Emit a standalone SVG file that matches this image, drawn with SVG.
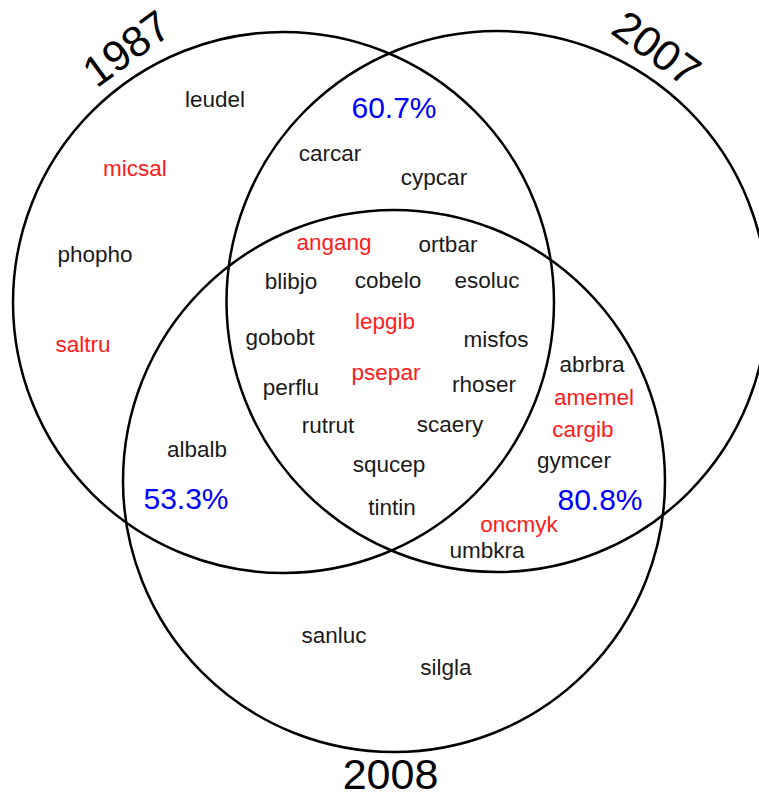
<svg xmlns="http://www.w3.org/2000/svg" width="759" height="799" viewBox="0 0 759 799">
  <style>
    .ring { fill: none; stroke: #000; stroke-width: 2.5; }
    text { font-family: "Liberation Sans", Arial, sans-serif; text-anchor: middle; }
    .sp { font-size: 22.5px; fill: #1a1a1a; }
    .hi { fill: #ff1a1a; }
    .pct { font-size: 30px; fill: #0000ff; }
    .yr { font-size: 43px; fill: #000; }
  </style>
  <rect width="759" height="799" fill="#fff"/>

  <!-- set outlines -->
  <g id="sets">
    <circle id="set-1987" class="ring" cx="283.5" cy="302.5" r="270.5"/>
    <circle id="set-2007" class="ring" cx="497" cy="301.5" r="270.5"/>
    <circle id="set-2008" class="ring" cx="394" cy="481" r="271"/>
  </g>

  <!-- year titles -->
  <g id="titles">
    <text class="yr" transform="translate(126,48) rotate(-36)" x="0" y="15.5">1987</text>
    <text class="yr" transform="translate(657,48) rotate(36)" x="0" y="15.5">2007</text>
    <text class="yr" x="390.5" y="789">2008</text>
  </g>

  <!-- overlap percentages -->
  <g id="percentages">
    <text class="pct" x="394" y="118">60.7%</text>
    <text class="pct" x="186" y="509">53.3%</text>
    <text class="pct" x="600" y="510">80.8%</text>
  </g>

  <!-- species codes -->
  <g id="species">
    <text class="sp" x="215" y="107">leudel</text>
    <text class="sp hi" x="135" y="176">micsal</text>
    <text class="sp" x="95" y="262">phopho</text>
    <text class="sp hi" x="83" y="352">saltru</text>
    <text class="sp" x="330" y="161">carcar</text>
    <text class="sp" x="434" y="185">cypcar</text>
    <text class="sp hi" x="334" y="250">angang</text>
    <text class="sp" x="448" y="252">ortbar</text>
    <text class="sp" x="291" y="289">blibjo</text>
    <text class="sp" x="388" y="288">cobelo</text>
    <text class="sp" x="487" y="288">esoluc</text>
    <text class="sp" x="280" y="345">gobobt</text>
    <text class="sp hi" x="385" y="329">lepgib</text>
    <text class="sp" x="496" y="347">misfos</text>
    <text class="sp hi" x="386" y="380">psepar</text>
    <text class="sp" x="592" y="372">abrbra</text>
    <text class="sp" x="291" y="395">perflu</text>
    <text class="sp" x="484" y="392">rhoser</text>
    <text class="sp hi" x="594" y="405">amemel</text>
    <text class="sp" x="328" y="433">rutrut</text>
    <text class="sp" x="450" y="432">scaery</text>
    <text class="sp hi" x="583" y="437">cargib</text>
    <text class="sp" x="197" y="457">albalb</text>
    <text class="sp" x="574" y="468">gymcer</text>
    <text class="sp" x="389" y="472">squcep</text>
    <text class="sp" x="392" y="515">tintin</text>
    <text class="sp hi" x="519" y="532">oncmyk</text>
    <text class="sp" x="487" y="558">umbkra</text>
    <text class="sp" x="334" y="643">sanluc</text>
    <text class="sp" x="446" y="675">silgla</text>
  </g>
</svg>
